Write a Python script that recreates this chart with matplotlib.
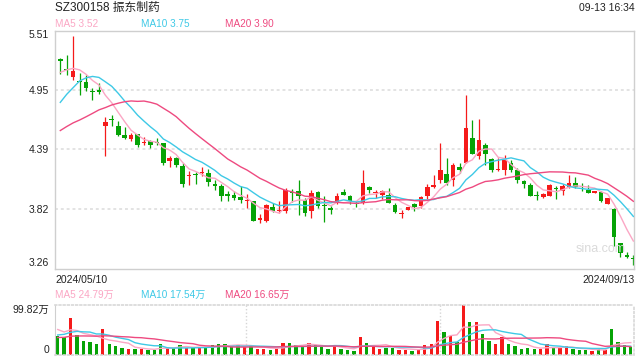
import matplotlib
matplotlib.use('Agg')
import matplotlib.pyplot as plt
import numpy as np

plt.rcParams['font.family'] = ['Liberation Sans', 'Noto Sans CJK SC', 'DejaVu Sans']

title = "SZ300158 振东制药"
stamp = "09-13 16:34"
date_first = "2024/05/10"
date_last = "2024/09/13"
price_ma_labels = ["MA5 3.52", "MA10 3.75", "MA20 3.90"]
vol_ma_labels = ["MA5 24.79万", "MA10 17.54万", "MA20 16.65万"]

price_ticks = [5.51, 4.95, 4.39, 3.82, 3.26]
vol_top = 99.82
vol_tick_labels = ["99.82万", "0"]

# closes / volumes before the visible window (only feed the moving averages)
prior_close = [4.38, 4.44, 4.48, 4.36, 4.29, 4.26, 4.21, 4.16, 4.19, 4.21,
               4.375, 4.50, 4.39, 4.68, 4.79, 5.02, 5.06, 5.09, 5.18]
prior_vol = [30, 28, 32, 26, 30, 28, 34, 30, 31, 31,
             22, 35, 20, 38, 30, 60, 52, 48, 56]

opens = [5.24, 5.15, 5.075, 5.03, 5.02, 4.94, 4.95, 4.605, 4.67, 4.605,
         4.52, 4.486, 4.533, 4.446, 4.461, 4.451, 4.444, 4.279, 4.308, 4.232,
         4.13, 4.15, 4.16, 4.164, 4.058, 4.04, 3.968, 3.953, 3.934, 3.896,
         3.896, 3.718, 3.713, 3.842, 3.805, 3.80, 3.982, 3.996, 3.91, 3.80,
         3.982, 3.852, 3.828, 3.886, 3.982, 3.948, 3.876, 3.881, 4.03, 3.972,
         3.958, 3.958, 3.857, 3.776, 3.814, 3.867, 3.848, 3.948, 4.03, 4.097,
         4.155, 4.092, 4.222, 4.26, 4.49, 4.327, 4.428, 4.298, 4.188, 4.193,
         4.26, 4.193, 4.087, 4.054, 3.953, 3.934, 3.948, 4.016, 3.991, 4.03,
         4.068, 4.035, 4.001, 3.977, 3.982, 3.871, 3.819, 3.503, 3.392, 3.354]
highs = [5.25, 5.28, 5.46, 5.11, 5.09, 4.97, 5.01, 4.69, 4.71, 4.655,
         4.595, 4.538, 4.533, 4.499, 4.476, 4.49, 4.446, 4.327, 4.318, 4.255,
         4.178, 4.169, 4.222, 4.203, 4.092, 4.058, 3.992, 3.992, 4.04, 3.968,
         3.896, 3.776, 3.867, 3.876, 3.896, 4.02, 4.01, 4.092, 3.924, 4.001,
         3.992, 3.944, 3.847, 3.972, 4.01, 3.958, 3.896, 4.193, 4.04, 4.006,
         4.006, 4.02, 3.881, 3.81, 3.838, 3.876, 3.948, 4.058, 4.145, 4.442,
         4.308, 4.255, 4.26, 4.902, 4.662, 4.672, 4.442, 4.308, 4.308, 4.336,
         4.289, 4.212, 4.097, 4.068, 3.992, 3.972, 4.058, 4.04, 4.058, 4.145,
         4.126, 4.073, 4.054, 3.991, 3.991, 3.929, 3.828, 3.503, 3.412, 3.392]
lows = [5.10, 5.09, 5.045, 4.90, 4.94, 4.855, 4.91, 4.32, 4.605, 4.515,
        4.485, 4.461, 4.413, 4.432, 4.399, 4.432, 4.241, 4.221, 4.221, 4.03,
        4.049, 4.058, 4.136, 4.04, 4.001, 3.896, 3.896, 3.91, 3.876, 3.828,
        3.713, 3.694, 3.704, 3.79, 3.78, 3.78, 3.886, 3.762, 3.752, 3.742,
        3.828, 3.704, 3.771, 3.867, 3.953, 3.867, 3.838, 3.867, 3.972, 3.924,
        3.915, 3.876, 3.78, 3.737, 3.809, 3.80, 3.828, 3.915, 4.02, 4.068,
        4.049, 4.04, 4.164, 4.255, 4.346, 4.298, 4.241, 4.169, 4.178, 4.145,
        4.169, 4.073, 4.02, 3.944, 3.91, 3.924, 3.944, 3.915, 3.958, 4.02,
        4.02, 3.991, 3.972, 3.972, 3.886, 3.867, 3.474, 3.368, 3.359, 3.292]
closes = [5.22, 5.14, 5.13, 5.02, 4.97, 4.93, 4.925, 4.645, 4.66, 4.52,
          4.49, 4.518, 4.423, 4.451, 4.432, 4.446, 4.26, 4.308, 4.24, 4.058,
          4.14, 4.145, 4.164, 4.078, 4.04, 3.944, 3.944, 3.924, 3.905, 3.905,
          3.713, 3.733, 3.857, 3.80, 3.814, 4.006, 3.972, 3.948, 3.78, 3.977,
          3.848, 3.848, 3.809, 3.948, 3.953, 3.896, 3.871, 4.068, 4.006, 3.982,
          3.991, 3.881, 3.79, 3.785, 3.838, 3.838, 3.934, 4.03, 4.054, 4.193,
          4.073, 4.241, 4.193, 4.586, 4.346, 4.476, 4.346, 4.193, 4.197, 4.289,
          4.193, 4.092, 4.058, 3.948, 3.948, 3.967, 4.054, 4.011, 4.04, 4.073,
          4.03, 4.03, 3.977, 3.991, 3.896, 3.924, 3.555, 3.402, 3.368, 3.349]
volumes = [38.6, 35.2, 74.5, 39.9, 27.9, 25.9, 21.9, 51.9, 21.9, 18.0,
           14.0, 12.0, 12.0, 12.6, 10.0, 10.0, 21.9, 13.3, 14.6, 20.0,
           14.6, 14.6, 14.6, 14.6, 19.3, 21.9, 21.3, 18.6, 19.3, 16.6,
           19.3, 12.0, 12.0, 10.0, 13.3, 24.0, 24.0, 19.3, 16.6, 24.0,
           19.3, 16.6, 12.0, 19.3, 12.0, 10.0, 8.6, 35.9, 24.0, 16.6,
           12.0, 14.6, 14.6, 10.0, 10.0, 8.6, 10.6, 19.3, 21.9, 67.8,
           45.9, 38.6, 26.6, 99.8, 65.8, 65.8, 41.9, 27.9, 21.9, 35.9,
           21.9, 18.0, 12.6, 14.0, 12.0, 12.0, 22.0, 14.0, 14.0, 17.0,
           12.0, 10.0, 10.0, 8.0, 12.0, 10.0, 51.9, 25.9, 20.0, 16.0]

RED = '#f51a1a'
GREEN = '#06a306'
C_MA5 = '#fba6c4'
C_MA10 = '#3ec9e6'
C_MA20 = '#ee4a80'
GRID = '#e3e3e3'
FRAME = '#cfcfcf'
TXT = '#222222'


def ma(prior, vals, n):
    s = np.array(prior + vals, dtype=float)
    out = np.convolve(s, np.ones(n) / n, mode='valid')
    return out[-len(vals):]


n = len(closes)
x = np.arange(n)
o = np.array(opens); h = np.array(highs); l = np.array(lows); c = np.array(closes)
up = c >= o
cols = np.where(up, RED, GREEN)

W, H = 640, 360
fig = plt.figure(figsize=(6.4, 3.6), dpi=100)


def frac(px, py):
    return px / W, 1 - py / H


# price panel
ax = fig.add_axes([54.5 / W, 1 - 268.5 / H, 579.5 / W, 238 / H])
ax.vlines(x, l, h, colors=cols, linewidth=0.9, zorder=2)
body = np.maximum(np.abs(c - o), 0.009)
ax.bar(x, body, bottom=np.minimum(o, c), width=0.72, color=cols, zorder=3, linewidth=0)
for period, col in [(5, C_MA5), (10, C_MA10), (20, C_MA20)]:
    ax.plot(x, ma(prior_close, closes, period), color=col, linewidth=1.0, zorder=4)
ax.set_xlim(-0.9, n - 0.9)
ax.set_ylim(price_ticks[-1], price_ticks[0])
for t in price_ticks[1:-1]:
    ax.axhline(t, color=GRID, linestyle=(0, (1.5, 1.5)), linewidth=1.4, zorder=1)
ax.set_xticks([])
ax.set_yticks(price_ticks)
ax.set_yticklabels(['%.2f' % t for t in price_ticks], fontsize=7.5, color=TXT)
ax.tick_params(axis='y', length=0, pad=4)
labs = ax.get_yticklabels()
labs[0].set_va('top')
labs[-1].set_va('bottom')
for s in ax.spines.values():
    s.set_color(FRAME)
    s.set_linewidth(1.0)
ax.text(0.985, 0.08, 'sina.com', transform=ax.transAxes, ha='right', va='center',
        fontsize=9, color='#dadada', zorder=5)

# volume panel
av = fig.add_axes([54.5 / W, 1 - 355 / H, 579.5 / W, 50 / H])
vcols = cols
av.bar(x, volumes, width=0.52, color=vcols, linewidth=0, zorder=2)
for period, col in [(5, C_MA5), (10, C_MA10), (20, C_MA20)]:
    av.plot(x, ma(prior_vol, volumes, period), color=col, linewidth=1.0, zorder=3)
av.set_xlim(-0.5, n - 0.5)
av.set_ylim(0, vol_top)
av.set_xticks([])
av.set_yticks([vol_top, 0])
av.set_yticklabels(vol_tick_labels, fontsize=7.5, color=TXT)
av.tick_params(axis='y', length=0, pad=4)
vl = av.get_yticklabels()
vl[0].set_va('top')
vl[1].set_va('bottom')
for xv in [29.3, 59.3]:
    av.axvline(xv, color='#d5d5d5', linestyle=(0, (1, 1.5)), linewidth=1.0, zorder=1)
av.spines['left'].set_color(FRAME)
for side in ['top', 'bottom', 'right']:
    av.spines[side].set_color('#d8d8d8')
    av.spines[side].set_linestyle((0, (1, 1.5)))
    av.spines[side].set_linewidth(1.2)

# header texts
fig.text(*frac(55, 8), title, fontsize=8.5, color=TXT, va='center', ha='left')
fig.text(*frac(635, 8), stamp, fontsize=7.5, color=TXT, va='center', ha='right')
for lab, col, px in zip(price_ma_labels, [C_MA5, C_MA10, C_MA20], [55, 141, 225]):
    fig.text(*frac(px, 24), lab, fontsize=7.2, color=col, va='center', ha='left')
fig.text(*frac(55, 280), date_first, fontsize=7.5, color=TXT, va='center', ha='left')
fig.text(*frac(635, 280), date_last, fontsize=7.5, color=TXT, va='center', ha='right')
for lab, col, px in zip(vol_ma_labels, [C_MA5, C_MA10, C_MA20], [55, 141, 225]):
    fig.text(*frac(px, 295), lab, fontsize=7.2, color=col, va='center', ha='left')

fig.savefig('out.png', dpi=100, facecolor='white')
